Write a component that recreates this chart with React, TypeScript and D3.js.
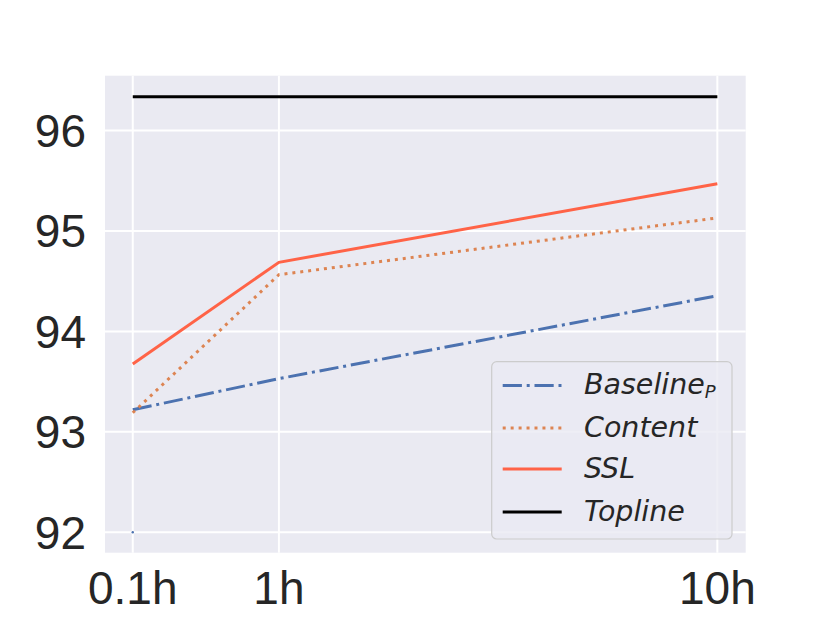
import React from "react";
import * as d3 from "d3";

const categories = ["0.1h", "1h", "10h"];
const xPositions = [0, 1, 4];
const baseline = [93.22, 93.53, 94.355];
const content = [93.19, 94.565, 95.13];
const ssl = [93.675, 94.688, 95.47];
const topline = [96.336, 96.336, 96.336];
const yTicks = [92, 93, 94, 95, 96];
const anchorPoint = [0, 92];

const W = 830;
const H = 623;
const left = 105;
const right = 745.7;
const top = 75.7;
const bottom = 552.7;

export default function App() {
  const x = d3.scaleLinear().domain([-0.19, 4.194]).range([left, right]);
  const y = d3.scaleLinear().domain([91.797, 96.546]).range([bottom, top]);
  const line = d3
    .line<number>()
    .x((_, i) => x(xPositions[i]))
    .y((d) => y(d));

  const series = [
    { name: "Baseline", sub: "P", data: baseline, color: "#4c72b0", dash: "19.2,4.8,3,4.8" },
    { name: "Content", sub: "", data: content, color: "#dd8452", dash: "3,4.95" },
    { name: "SSL", sub: "", data: ssl, color: "#ff6347", dash: "" },
    { name: "Topline", sub: "", data: topline, color: "#000000", dash: "" },
  ];

  const legX = 491.7;
  const legY = 361.7;
  const legW = 240.3;
  const legH = 177.3;
  const rowBase = [394, 436.5, 477.5, 520.5];

  return (
    <svg
      width={W}
      height={H}
      style={{ position: "absolute", left: 0, top: 0, display: "block", background: "#ffffff" }}
    >
      <rect x={left} y={top} width={right - left} height={bottom - top} fill="#eaeaf2" />
      {yTicks.map((t) => (
        <line key={"hy" + t} x1={left} x2={right} y1={y(t)} y2={y(t)} stroke="#ffffff" strokeWidth={2} />
      ))}
      {xPositions.map((p, i) => (
        <line key={"vx" + i} x1={x(p)} x2={x(p)} y1={top} y2={bottom} stroke="#ffffff" strokeWidth={2} />
      ))}
      {series.map((s) => (
        <path
          key={s.name}
          d={line(s.data) || ""}
          fill="none"
          stroke={s.color}
          strokeWidth={3}
          strokeDasharray={s.dash || undefined}
        />
      ))}
      <circle cx={x(anchorPoint[0])} cy={y(anchorPoint[1])} r={1.2} fill="#4c72b0" />
      {yTicks.map((t) => (
        <text
          key={"yl" + t}
          x={86}
          y={y(t) + 16.3}
          textAnchor="end"
          fontFamily="'Liberation Sans', Arial, sans-serif"
          fontSize={46}
          fill="#262626"
        >
          {t}
        </text>
      ))}
      {categories.map((c, i) => (
        <text
          key={"xl" + c}
          x={x(xPositions[i])}
          y={604}
          textAnchor="middle"
          fontFamily="'Liberation Sans', Arial, sans-serif"
          fontSize={46}
          fill="#262626"
        >
          {c}
        </text>
      ))}
      <rect
        x={legX}
        y={legY}
        width={legW}
        height={legH}
        rx={5}
        ry={5}
        fill="#eaeaf2"
        fillOpacity={0.8}
        stroke="#cccccc"
        strokeWidth={1.2}
      />
      {series.map((s, i) => (
        <g key={"leg" + s.name}>
          <line
            x1={502.7}
            x2={561.7}
            y1={rowBase[i] - 8.5}
            y2={rowBase[i] - 8.5}
            stroke={s.color}
            strokeWidth={3}
            strokeDasharray={s.dash || undefined}
          />
          <text
            x={584}
            y={rowBase[i]}
            fontFamily="'DejaVu Sans', sans-serif"
            fontStyle="italic"
            fontSize={28.5}
            fill="#262626"
          >
            {s.name}
            {s.sub ? (
              <tspan fontSize={18} dy={4}>
                {s.sub}
              </tspan>
            ) : null}
          </text>
        </g>
      ))}
    </svg>
  );
}
